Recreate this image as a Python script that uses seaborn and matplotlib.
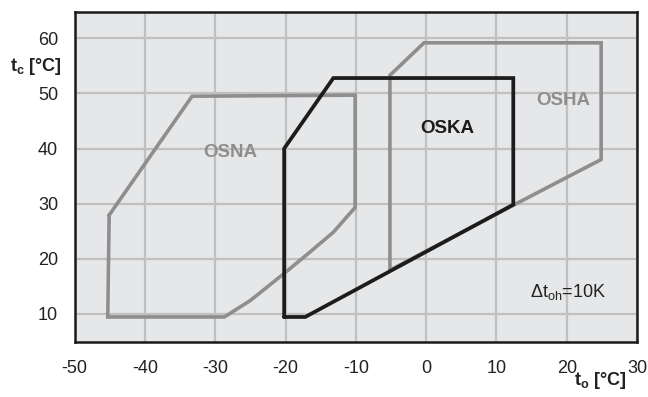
import matplotlib
matplotlib.use("Agg")
import matplotlib.pyplot as plt
import seaborn as sns
import pandas as pd

# Operating envelopes: evaporating temperature t_o vs condensing temperature t_c
osna_to = [-45.1, -33.3, -10.1, -10.1, -13.2, -16.8, -20.5, -25.0, -28.7, -45.3, -45.1]
osna_tc = [27.9, 49.5, 49.7, 29.3, 24.8, 20.9, 17.0, 12.4, 9.4, 9.4, 27.9]

osha_to = [-5.15, -5.15, -0.3, 24.9, 24.9, 12.4, -5.15]
osha_tc = [17.9, 53.3, 59.2, 59.2, 38.0, 29.7, 17.9]

oska_to = [-20.2, -20.2, -13.2, 12.4, 12.4, -17.2, -20.2]
oska_tc = [9.4, 40.0, 52.8, 52.8, 29.8, 9.4, 9.4]

x_ticks = [-50, -40, -30, -20, -10, 0, 10, 20, 30]
y_ticks = [10, 20, 30, 40, 50, 60]

sns.set_theme(style="white")
plt.rcParams["font.family"] = ["Liberation Sans", "DejaVu Sans"]
plt.rcParams["axes.unicode_minus"] = False
plt.rcParams["mathtext.fontset"] = "custom"
plt.rcParams["mathtext.rm"] = "Liberation Sans"
plt.rcParams["mathtext.bf"] = "Liberation Sans:bold"
plt.rcParams["mathtext.it"] = "Liberation Sans:italic"

GRAY = "#8e8e8e"
BLACK = "#1c1c1c"
GRID = "#c0c0c0"

fig = plt.figure(figsize=(6.48, 3.97), dpi=100)
ax = fig.add_axes([0.1153, 0.1378, 0.8677, 0.832])
ax.set_facecolor("#e6e7e9")

ax.set_xlim(-50, 30)
ax.set_ylim(4.8, 64.8)
ax.set_xticks(x_ticks)
ax.set_yticks(y_ticks)
ax.grid(True, color=GRID, linewidth=1.6, zorder=0)
ax.set_axisbelow(True)

def envelope(xs, ys, color, lw):
    df = pd.DataFrame({"to": xs, "tc": ys})
    sns.lineplot(data=df, x="to", y="tc", sort=False, estimator=None,
                 color=color, linewidth=lw, ax=ax, zorder=3,
                 solid_joinstyle="miter")

envelope(osna_to, osna_tc, GRAY, 2.6)
envelope(osha_to, osha_tc, GRAY, 2.6)
envelope(oska_to, oska_tc, BLACK, 2.7)

ax.text(-27.9, 39.3, "OSNA", color=GRAY, fontsize=13.5, fontweight="bold",
        ha="center", va="center")
ax.text(3.0, 43.7, "OSKA", color=BLACK, fontsize=13.5, fontweight="bold",
        ha="center", va="center")
ax.text(19.5, 48.8, "OSHA", color=GRAY, fontsize=13.5, fontweight="bold",
        ha="center", va="center")
ax.text(14.8, 13.9, r"$\Delta$t$_{\mathrm{oh}}$=10K", color="#222222",
        fontsize=13, ha="left", va="center")

ax.set_xlabel("")
ax.set_ylabel("")
ax.tick_params(axis="both", length=9, width=1.6, color=GRID,
               labelsize=13, labelcolor="#222222", pad=3)
ax.tick_params(axis="x", pad=4)

for side in ["left", "right", "top", "bottom"]:
    ax.spines[side].set_visible(True)
    ax.spines[side].set_color("#1a1a1a")
    ax.spines[side].set_linewidth(1.8)

ax.text(-0.0226, 0.8335, r"t$_{\mathbf{c}}$ [°C]", transform=ax.transAxes,
        fontsize=13, fontweight="bold", color="#222222", ha="right", va="center")
ax.text(0.982, -0.117, r"t$_{\mathbf{o}}$ [°C]", transform=ax.transAxes,
        fontsize=13, fontweight="bold", color="#222222", ha="right", va="center")

fig.savefig("out.png", dpi=100)
